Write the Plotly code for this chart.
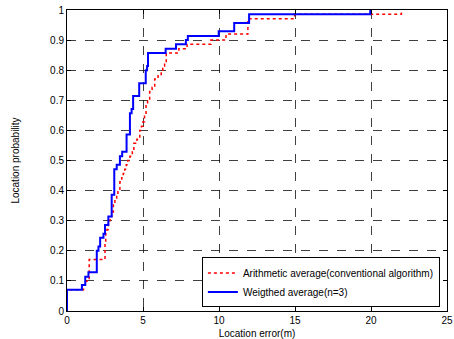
import plotly.graph_objects as go

# Weighted average (n=3): step positions (m) and cumulative probability
weighted_x = [0, 0, 0.98, 1.2, 1.41, 1.96, 2.07, 2.18, 2.4, 2.5, 2.72, 2.94, 3.11, 3.27,
              3.48, 3.63, 3.92, 4.14, 4.25, 4.35, 4.75, 5.18, 5.27, 5.33, 6.49, 7.17,
              7.82, 7.95, 9.98, 11.0, 11.98, 19.95]
weighted_y = [0, 0.071, 0.086, 0.114, 0.129, 0.2, 0.214, 0.243, 0.257, 0.286, 0.314, 0.386,
              0.471, 0.486, 0.514, 0.529, 0.586, 0.657, 0.671, 0.714, 0.757, 0.8, 0.814,
              0.857, 0.871, 0.886, 0.9, 0.914, 0.929, 0.957, 0.986, 1.0]

# Arithmetic average (conventional algorithm)
arith_x = [0, 0, 1.09, 1.26, 1.46, 2.5, 2.55, 2.63, 2.72, 2.83, 2.94, 3.05, 3.15, 3.27,
           3.35, 3.48, 3.6, 3.7, 3.8, 3.9, 4.0, 4.14, 4.3, 4.4, 4.6, 4.79, 4.9, 5.0, 5.1,
           5.2, 5.3, 5.44, 5.6, 5.77, 5.99, 6.2, 6.3, 6.42, 6.53, 7.36, 7.9, 9.47, 10.46,
           11.9, 14.97, 22.0]
arith_y = [0, 0.071, 0.086, 0.1, 0.171, 0.229, 0.257, 0.271, 0.3, 0.314, 0.329, 0.357,
           0.371, 0.386, 0.4, 0.429, 0.443, 0.457, 0.471, 0.486, 0.5, 0.514, 0.529, 0.557,
           0.571, 0.6, 0.614, 0.629, 0.657, 0.686, 0.7, 0.729, 0.743, 0.771, 0.786, 0.8,
           0.814, 0.829, 0.857, 0.871, 0.886, 0.9, 0.92, 0.971, 0.986, 1.0]

x_ticks = [0, 5, 10, 15, 20, 25]
y_ticks = [0, 0.1, 0.2, 0.3, 0.4, 0.5, 0.6, 0.7, 0.8, 0.9, 1]
y_tick_labels = ["0", "0.1", "0.2", "0.3", "0.4", "0.5", "0.6", "0.7", "0.8", "0.9", "1"]

fig = go.Figure()
fig.add_trace(go.Scatter(x=arith_x, y=arith_y, mode="lines", line_shape="hv",
                         name="Arithmetic average(conventional algorithm)",
                         line=dict(color="#ff0000", width=1.5, dash="dot")))
fig.add_trace(go.Scatter(x=weighted_x, y=weighted_y, mode="lines", line_shape="hv",
                         name="Weigthed average(n=3)",
                         line=dict(color="#0000ff", width=2)))

axis_common = dict(showline=True, linecolor="black", linewidth=1, mirror="allticks",
                   ticks="inside", ticklen=4, tickcolor="black",
                   showgrid=True, gridcolor="rgba(0,0,0,0.75)", griddash="dash", gridwidth=1,
                   zeroline=False, tickfont=dict(size=10, color="black"),
                   ticklabeloverflow="allow", automargin=False)

fig.update_xaxes(range=[0, 25], tickvals=x_ticks, title=dict(text="Location error(m)",
                 font=dict(size=10, color="black"), standoff=4), **axis_common)
fig.update_yaxes(range=[0, 1], tickvals=y_ticks, ticktext=y_tick_labels,
                 title=dict(text="Location probability", font=dict(size=10, color="black"),
                            standoff=28), **axis_common)

fig.update_layout(
    width=454, height=339,
    margin=dict(l=67, r=7, t=10, b=28, autoexpand=False),
    paper_bgcolor="white", plot_bgcolor="white",
    font=dict(family="Liberation Sans, Arial, sans-serif", size=10, color="black"),
    legend=dict(x=0.355, y=0.012, xanchor="left", yanchor="bottom",
                bgcolor="white", bordercolor="black", borderwidth=1,
                font=dict(size=10), tracegroupgap=0, itemwidth=30),
)

fig.write_html("out.html")
